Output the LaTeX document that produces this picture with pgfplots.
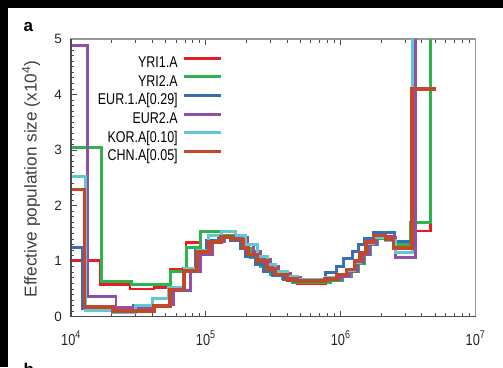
\documentclass[border=0pt]{standalone}
\usepackage{pgfplots}
\pgfplotsset{compat=1.18}
\usepackage{fontspec}
\setmainfont{Liberation Sans}
\newfontfamily\nfont[FakeStretch=0.8]{Liberation Sans}
\definecolor{cRed}{HTML}{E81C24}
\definecolor{cGreen}{HTML}{2DB44B}
\definecolor{cBlue}{HTML}{376EB4}
\definecolor{cPurple}{HTML}{9150A5}
\definecolor{cCyan}{HTML}{5FC8D2}
\definecolor{cBrown}{HTML}{C34828}
\begin{document}
\begin{tikzpicture}
\useasboundingbox (0pt,0pt) rectangle (503pt,367pt);
\fill[black] (0pt,359pt) rectangle (503pt,367pt);
\fill[black] (0pt,0pt) rectangle (8pt,367pt);
\node[font=\bfseries\fontsize{17}{18}\selectfont, anchor=base west, inner sep=0pt] at (23.5pt,335.3pt) {a};
\node[font=\bfseries\fontsize{17}{18}\selectfont, anchor=base west, inner sep=0pt] at (23.5pt,-8.4pt) {b};
\begin{axis}[
  name=ax,
  at={(71pt,50.3pt)}, anchor=south west, scale only axis,
  width=404.5pt, height=277.7pt,
  xmode=log, xmin=1e4, xmax=1e7, ymin=0, ymax=5,
  xtick={1e4,1e5,1e6,1e7},
  xticklabels={10\textsuperscript{4},10\textsuperscript{5},10\textsuperscript{6},10\textsuperscript{7}},
  minor xtick={2e4,3e4,4e4,5e4,6e4,7e4,8e4,9e4,2e5,3e5,4e5,5e5,6e5,7e5,8e5,9e5,2e6,3e6,4e6,5e6,6e6,7e6,8e6,9e6},
  ytick={0,1,2,3,4,5},
  yticklabels={0,1,2,3,4,5},
  minor y tick num=9,
  ytick pos=left, xtick pos=both,
  tick align=inside,
  major tick length=6pt, minor tick length=3.5pt,
  every tick/.style={color=black!70, line width=0.8pt},
  axis line style={color=black!40, line width=1.1pt},
  xticklabel style={font=\nfont\fontsize{16}{17}\selectfont, anchor=base, yshift=-28.3pt, text=black!85},
  yticklabel style={font=\fontsize{13.5}{14}\selectfont, anchor=east, inner sep=0pt, xshift=-9pt, text=black!85},
  ylabel={Effective population size (x10\textsuperscript{4})},
  ylabel style={at={(axis description cs:-0.0848,0.496)}, anchor=base, font=\fontsize{17.2}{18}\selectfont, text=black!75},
  legend style={draw=none, fill=none, at={(0.375,0.937)}, anchor=north east, inner sep=0pt, outer sep=0pt,
    font=\nfont\fontsize{15.6}{16}\selectfont, row sep=4.7pt, column sep=5pt,
    nodes={inner sep=0pt, text height=11pt, text depth=3pt}},
  legend cell align=right,
  legend plot pos=right,
  legend image code/.code={\draw[#1, line width=3pt] (0pt,5.5pt) -- (37pt,5.5pt);},
  const plot,
]
\addplot[cRed, line width=2.6pt] coordinates {(1e4,1.01) (1.642e4,0.58) (2.742e4,0.50) (4.133e4,0.53) (5.433e4,0.86) (7.141e4,1.34) (9.183e4,1.54) (1.299e5,1.44) (1.595e5,1.39) (1.892e5,1.24) (2.061e5,1.12) (2.403e5,1.00) (2.852e5,0.86) (3.269e5,0.74) (4.013e5,0.65) (4.763e5,0.60) (7.687e5,0.64) (9.436e5,0.74) (1.101e6,0.84) (1.262e6,0.99) (1.398e6,1.14) (1.549e6,1.33) (1.746e6,1.44) (2.458e6,1.30) (3.580e6,1.54) (4.626e6,8) (6e6,8)};
\addlegendentry{YRI1.A}
\addplot[cGreen, line width=3pt] coordinates {(1e4,3.05) (1.690e4,0.64) (2.822e4,0.58) (5.433e4,0.82) (7.141e4,1.25) (9.183e4,1.54) (1.299e5,1.47) (1.595e5,1.40) (1.892e5,1.22) (2.133e5,1.06) (2.530e5,0.90) (3.003e5,0.76) (3.685e5,0.68) (4.372e5,0.62) (8.372e5,0.65) (1.028e6,0.72) (1.199e6,0.82) (1.351e6,0.96) (1.497e6,1.12) (1.658e6,1.30) (1.869e6,1.40) (2.543e6,1.30) (3.286e6,1.69) (4.626e6,8) (6e6,8)};
\addlegendentry{YRI2.A}
\addplot[cBlue, line width=3pt] coordinates {(1e4,1.24) (1.213e4,0.14) (2.886e4,0.20) (3.994e4,0.32) (5.249e4,0.52) (6.785e4,0.86) (8.326e4,1.20) (1.005e5,1.38) (1.234e5,1.42) (1.515e5,1.38) (1.797e5,1.22) (1.958e5,1.09) (2.323e5,0.94) (2.664e5,0.82) (3.106e5,0.74) (3.749e5,0.67) (4.447e5,0.63) (6.936e5,0.66) (7.687e5,0.79) (9.277e5,0.90) (1.045e6,1.04) (1.220e6,1.18) (1.351e6,1.30) (1.497e6,1.40) (1.746e6,1.52) (2.500e6,1.36) (3.401e6,8) (6e6,8)};
\addlegendentry{EUR.1.A[0.29]}
\addplot[cPurple, line width=2.8pt] coordinates {(1e4,4.88) (1.330e4,0.37) (2.159e4,0.17) (3.038e4,0.15) (4.204e4,0.21) (5.719e4,0.47) (7.645e4,0.82) (9.073e4,1.12) (1.114e5,1.35) (1.367e5,1.45) (1.679e5,1.42) (2.026e5,1.30) (2.245e5,1.18) (2.530e5,1.04) (3.003e5,0.90) (3.441e5,0.78) (4.225e5,0.70) (5.013e5,0.65) (8.091e5,0.66) (9.933e5,0.72) (1.158e6,0.82) (1.328e6,0.97) (1.472e6,1.12) (1.631e6,1.30) (1.838e6,1.42) (2.543e6,1.07) (3.580e6,8) (6e6,8)};
\addlegendentry{EUR2.A}
\addplot[cCyan, line width=3pt] coordinates {(1e4,2.53) (1.277e4,0.12) (2.016e4,0.08) (2.987e4,0.20) (3.994e4,0.32) (5.249e4,0.53) (6.902e4,0.86) (8.617e4,1.20) (1.040e5,1.47) (1.299e5,1.54) (1.650e5,1.47) (1.958e5,1.30) (2.403e5,1.09) (2.852e5,0.94) (3.269e5,0.81) (4.013e5,0.72) (4.763e5,0.67) (7.687e5,0.70) (9.436e5,0.76) (1.101e6,0.84) (1.262e6,0.98) (1.398e6,1.14) (1.549e6,1.32) (1.746e6,1.42) (2.144e6,1.38) (2.543e6,1.16) (3.418e6,8) (6e6,8)};
\addlegendentry{KOR.A[0.10]}
\addplot[cBrown, line width=3.6pt] coordinates {(1e4,2.29) (1.255e4,0.17) (2.050e4,0.10) (4.133e4,0.19) (5.433e4,0.49) (6.902e4,0.82) (8.617e4,1.17) (1.058e5,1.34) (1.299e5,1.44) (1.595e5,1.39) (1.892e5,1.24) (2.061e5,1.12) (2.403e5,1.00) (2.852e5,0.86) (3.269e5,0.76) (4.013e5,0.68) (4.763e5,0.64) (7.687e5,0.68) (9.436e5,0.76) (1.101e6,0.85) (1.262e6,1.00) (1.398e6,1.15) (1.549e6,1.34) (1.746e6,1.46) (2.144e6,1.40) (2.458e6,1.24) (3.383e6,4.10) (5.100e6,4.10)};
\addlegendentry{CHN.A[0.05]}
\end{axis}
\draw[black!70, line width=1.5pt] (ax.north west) -- (ax.south west) -- (ax.south east);
\end{tikzpicture}
\end{document}
